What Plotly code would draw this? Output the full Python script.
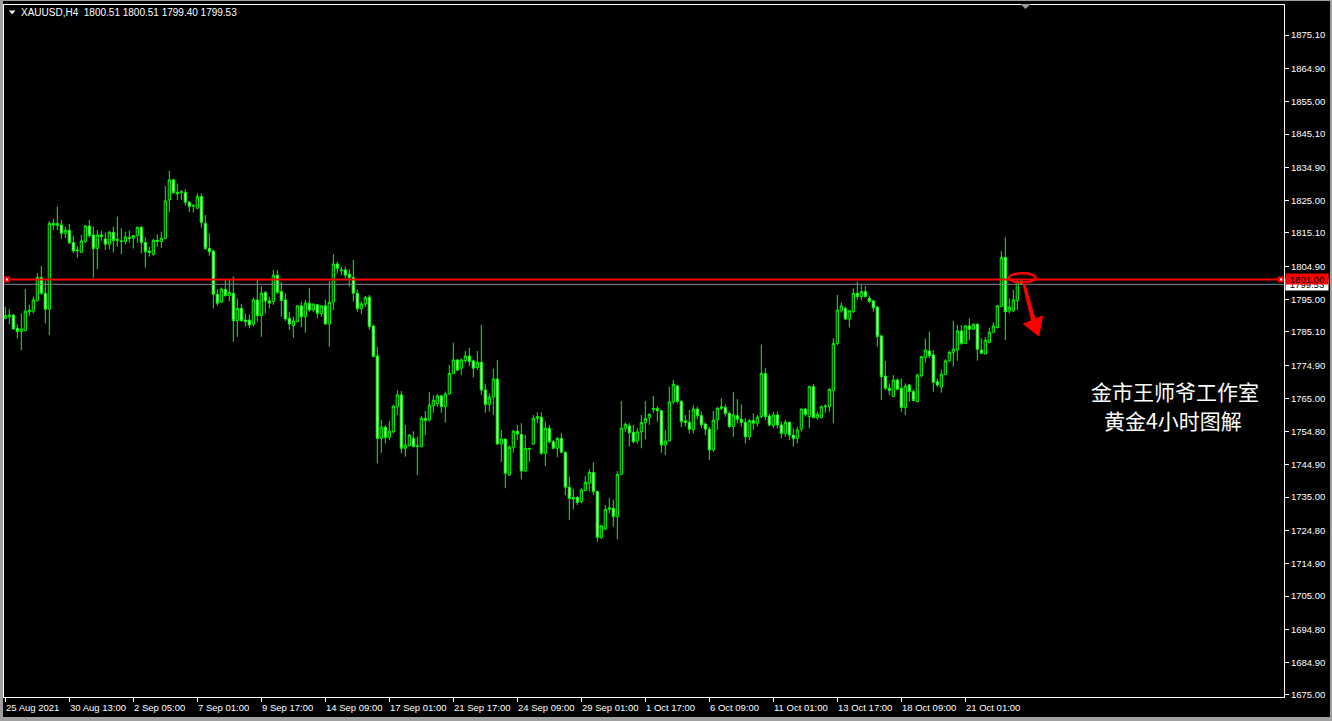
import plotly.graph_objects as go

# ---------------- data (XAUUSD H4) ----------------
opens = [
    1789.2, 1789.7, 1790.2, 1786.2, 1785.2, 1785.5, 1791.2, 1791.4, 1794.6, 1801.6,
    1796.8, 1792.0, 1818.0, 1817.3, 1817.5, 1815.0, 1815.9, 1812.2, 1809.7, 1809.2,
    1812.5, 1817.2, 1814.5, 1810.4, 1814.5, 1813.3, 1811.7, 1815.3, 1812.8, 1812.7,
    1812.5, 1813.7, 1813.5, 1814.3, 1816.8, 1812.2, 1809.6, 1808.6, 1812.9, 1812.5,
    1813.5, 1825.1, 1831.2, 1827.4, 1827.3, 1827.4, 1824.4, 1823.2, 1822.6, 1826.1,
    1818.0, 1810.4, 1809.6, 1796.5, 1794.1, 1798.0, 1796.1, 1796.8, 1788.5, 1792.2,
    1788.7, 1788.7, 1787.4, 1794.8, 1790.0, 1797.0, 1794.5, 1794.3, 1802.3, 1797.3,
    1794.8, 1789.2, 1787.0, 1788.2, 1793.0, 1789.7, 1793.8, 1791.7, 1793.3, 1790.7,
    1793.0, 1787.5, 1794.1, 1805.7, 1803.9,
    1803.9, 1802.6, 1801.6, 1796.8, 1792.2, 1793.5, 1795.6, 1786.9, 1777.8, 1752.8,
    1756.2, 1753.1, 1754.8, 1762.4, 1766.0, 1749.8, 1750.6, 1752.8, 1750.3, 1750.3,
    1758.9, 1758.4, 1762.7, 1763.4, 1765.7, 1762.4, 1766.3, 1772.5, 1776.6, 1774.1,
    1776.4, 1777.8, 1776.3, 1774.3, 1775.9, 1767.5, 1763.1, 1765.3, 1770.8, 1751.1,
    1752.6, 1741.7, 1750.1, 1755.0, 1754.0, 1742.9, 1749.8, 1751.1, 1758.9, 1759.2,
    1748.3, 1755.9, 1751.8, 1749.8, 1752.8, 1748.6, 1738.0, 1734.9, 1734.9, 1733.6,
    1737.0, 1739.2, 1742.5, 1736.7, 1722.8, 1725.3, 1731.3, 1731.6, 1729.1, 1741.9,
    1755.7, 1756.6, 1754.6, 1752.0, 1754.8, 1757.6, 1759.1, 1761.5, 1761.9, 1761.2,
    1750.8, 1752.1, 1763.9,
    1768.7, 1764.0, 1758.1, 1757.7, 1755.4, 1761.7, 1759.7, 1757.2, 1755.6, 1749.3,
    1758.4, 1761.9, 1762.2, 1760.4, 1756.4, 1759.7, 1758.6, 1757.7, 1753.3, 1758.2,
    1757.4, 1759.4, 1772.5, 1759.6, 1756.7, 1759.9, 1756.9, 1754.3, 1757.7, 1753.8,
    1752.8, 1755.7, 1761.7, 1759.4, 1768.5, 1759.1, 1759.1, 1762.4, 1762.4, 1767.3,
    1781.6, 1791.5, 1792.2, 1789.0, 1791.2, 1796.8, 1795.8, 1797.3, 1795.3, 1794.5,
    1792.6, 1783.9, 1771.7, 1768.0, 1765.5, 1770.5, 1768.0, 1762.2, 1769.0, 1767.0,
    1764.0, 1771.8, 1777.3, 1779.3, 1778.1, 1770.0, 1768.3, 1772.2, 1776.3, 1778.9,
    1779.6, 1785.4, 1781.6, 1786.9, 1785.9, 1787.4, 1779.6, 1778.4, 1781.9, 1785.0,
    1786.4, 1792.8, 1807.7, 1791.4, 1791.5, 1794.6, 1800.51,
]
highs = [
    1792.7, 1792.0, 1790.5, 1787.4, 1790.7, 1798.1, 1793.3, 1795.8, 1802.9, 1805.1,
    1800.5, 1818.7, 1819.3, 1823.1, 1819.0, 1817.0, 1817.8, 1814.3, 1811.2, 1814.5,
    1817.5, 1819.0, 1817.0, 1816.0, 1815.7, 1815.2, 1815.7, 1817.0, 1820.0, 1816.5,
    1815.5, 1815.9, 1814.5, 1817.0, 1817.2, 1813.7, 1810.9, 1813.3, 1814.7, 1815.5,
    1829.3, 1834.0, 1831.5, 1830.1, 1828.1, 1828.4, 1824.8, 1823.8, 1827.1, 1827.1,
    1820.5, 1815.0, 1809.9, 1798.0, 1798.6, 1801.0, 1801.3, 1802.0, 1795.3, 1793.5,
    1790.7, 1790.4, 1795.6, 1800.8, 1799.0, 1797.5, 1795.8, 1803.9, 1803.9, 1800.3,
    1796.8, 1791.2, 1789.7, 1793.3, 1794.3, 1794.8, 1798.5, 1793.8, 1793.5, 1793.3,
    1794.8, 1800.5, 1808.7, 1806.4, 1804.9,
    1804.9, 1804.1, 1806.9, 1798.0, 1794.5, 1796.0, 1796.3, 1787.2, 1780.6, 1758.4,
    1756.9, 1758.1, 1762.9, 1767.5, 1767.2, 1756.9, 1754.1, 1755.0, 1753.3, 1759.6,
    1761.1, 1766.8, 1765.8, 1766.2, 1766.0, 1767.0, 1775.1, 1781.8, 1776.8, 1777.1,
    1779.3, 1780.3, 1776.8, 1779.3, 1787.2, 1769.3, 1766.5, 1773.9, 1776.6, 1755.4,
    1752.6, 1750.8, 1755.4, 1756.9, 1757.4, 1753.8, 1749.8, 1759.9, 1760.7, 1760.7,
    1757.9, 1756.9, 1752.3, 1753.3, 1754.5, 1748.8, 1741.2, 1737.4, 1735.3, 1737.7,
    1741.4, 1743.4, 1745.6, 1737.0, 1726.5, 1732.6, 1734.8, 1734.1, 1742.9, 1764.1,
    1757.6, 1757.4, 1756.9, 1755.9, 1759.9, 1764.1, 1760.4, 1765.7, 1762.6, 1761.4,
    1755.4, 1768.5, 1770.5,
    1769.0, 1764.5, 1759.9, 1761.4, 1762.9, 1762.4, 1760.9, 1757.6, 1756.4, 1761.1,
    1762.4, 1765.0, 1763.2, 1760.9, 1766.8, 1764.7, 1763.1, 1758.9, 1758.7, 1760.4,
    1759.9, 1781.3, 1774.1, 1760.4, 1760.9, 1760.9, 1757.9, 1758.4, 1757.9, 1755.9,
    1756.4, 1761.9, 1762.1, 1768.8, 1769.3, 1760.9, 1762.9, 1763.2, 1768.0, 1783.2,
    1796.3, 1794.0, 1792.8, 1791.7, 1798.3, 1800.3, 1799.3, 1799.0, 1796.1, 1794.8,
    1793.0, 1783.9, 1776.3, 1769.5, 1772.0, 1771.0, 1771.0, 1769.5, 1769.3, 1767.7,
    1772.5, 1777.8, 1783.0, 1785.2, 1779.6, 1771.0, 1773.6, 1776.8, 1779.4, 1788.5,
    1787.2, 1787.2, 1787.2, 1789.2, 1787.7, 1787.7, 1783.2, 1783.5, 1786.4, 1788.0,
    1793.3, 1809.6, 1813.8, 1795.3, 1797.8, 1801.0, 1800.51,
]
lows = [
    1789.0, 1787.4, 1785.7, 1783.1, 1779.6, 1785.5, 1790.0, 1790.7, 1794.3, 1796.3,
    1787.7, 1784.2, 1816.0, 1816.0, 1813.3, 1813.5, 1811.7, 1808.9, 1807.6, 1809.1,
    1812.1, 1813.7, 1801.5, 1804.1, 1812.7, 1809.9, 1810.2, 1809.2, 1810.9, 1808.6,
    1811.7, 1812.1, 1810.4, 1812.1, 1808.9, 1804.6, 1807.9, 1808.2, 1810.9, 1810.6,
    1813.3, 1821.5, 1827.1, 1825.1, 1825.1, 1823.4, 1821.5, 1821.3, 1822.4, 1816.7,
    1809.9, 1808.2, 1792.2, 1793.0, 1793.8, 1795.8, 1794.3, 1782.1, 1783.6, 1788.2,
    1786.7, 1786.2, 1786.7, 1788.2, 1783.6, 1790.7, 1792.2, 1793.3, 1796.5, 1789.7,
    1788.4, 1785.7, 1783.3, 1788.0, 1786.5, 1784.9, 1791.2, 1791.2, 1789.2, 1789.7,
    1787.2, 1780.6, 1791.7, 1802.9, 1802.3,
    1801.3, 1798.8, 1794.3, 1791.2, 1790.5, 1792.7, 1785.7, 1777.4, 1745.2, 1748.5,
    1751.3, 1752.3, 1754.3, 1759.9, 1748.3, 1747.3, 1750.3, 1750.1, 1741.7, 1750.1,
    1753.8, 1757.9, 1760.6, 1762.4, 1760.6, 1757.6, 1766.0, 1772.2, 1773.3, 1772.0,
    1775.6, 1774.8, 1771.3, 1773.5, 1766.0, 1760.6, 1760.9, 1759.9, 1750.8, 1745.7,
    1737.7, 1741.4, 1748.5, 1752.3, 1740.4, 1742.7, 1745.7, 1750.8, 1757.4, 1747.8,
    1744.4, 1751.3, 1749.5, 1747.1, 1748.3, 1735.6, 1728.1, 1731.3, 1732.6, 1733.1,
    1737.0, 1736.7, 1735.6, 1721.5, 1722.3, 1725.0, 1730.1, 1726.0, 1722.2, 1741.7,
    1754.8, 1750.3, 1751.3, 1751.1, 1749.8, 1752.5, 1756.9, 1760.4, 1757.9, 1748.5,
    1747.8, 1751.8, 1763.2,
    1763.4, 1756.2, 1756.4, 1754.3, 1754.3, 1758.6, 1755.9, 1753.8, 1746.3, 1748.8,
    1755.4, 1761.4, 1759.4, 1755.9, 1753.3, 1757.4, 1756.4, 1751.3, 1752.3, 1755.4,
    1756.4, 1758.9, 1758.4, 1756.4, 1755.9, 1755.9, 1752.8, 1753.3, 1752.3, 1750.3,
    1751.3, 1754.9, 1759.4, 1755.9, 1758.9, 1758.4, 1758.9, 1760.6, 1760.9, 1757.4,
    1781.1, 1790.9, 1788.7, 1786.4, 1790.9, 1794.8, 1794.6, 1795.5, 1793.8, 1791.2,
    1780.6, 1764.5, 1767.5, 1766.0, 1765.3, 1767.5, 1760.9, 1759.9, 1764.0, 1764.0,
    1763.7, 1771.3, 1775.8, 1777.1, 1767.0, 1768.5, 1766.7, 1772.0, 1776.1, 1774.6,
    1776.4, 1781.1, 1781.4, 1782.6, 1785.7, 1776.4, 1778.4, 1778.3, 1781.6, 1784.7,
    1786.2, 1792.6, 1782.6, 1790.7, 1791.2, 1791.7, 1799.40,
]
closes = [
    1790.0, 1790.2, 1786.0, 1785.2, 1786.0, 1791.4, 1791.7, 1794.8, 1801.6, 1796.8,
    1792.0, 1818.0, 1817.5, 1818.0, 1815.0, 1815.9, 1812.1, 1809.7, 1809.9, 1812.7,
    1817.2, 1814.3, 1810.4, 1814.5, 1814.0, 1811.7, 1815.3, 1812.8, 1813.2, 1812.5,
    1813.9, 1813.5, 1814.3, 1816.8, 1812.2, 1809.4, 1809.2, 1812.9, 1812.5, 1813.5,
    1824.8, 1831.2, 1827.3, 1827.0, 1827.6, 1824.4, 1823.1, 1823.4, 1826.1, 1818.3,
    1810.4, 1809.4, 1796.5, 1793.8, 1798.1, 1796.1, 1797.0, 1788.5, 1792.2, 1788.5,
    1788.2, 1787.2, 1794.8, 1790.0, 1796.8, 1794.5, 1793.8, 1802.3, 1797.1, 1794.6,
    1789.0, 1787.5, 1788.4, 1793.0, 1789.7, 1793.8, 1791.7, 1793.5, 1790.7, 1793.0,
    1787.5, 1794.1, 1805.7, 1804.4, 1803.7,
    1802.3, 1801.5, 1796.8, 1792.2, 1793.6, 1795.6, 1786.7, 1777.6, 1752.8, 1756.2,
    1753.1, 1755.0, 1762.6, 1766.0, 1749.8, 1750.8, 1753.8, 1750.3, 1750.5, 1758.9,
    1758.2, 1762.9, 1764.4, 1765.7, 1762.4, 1766.3, 1772.5, 1776.6, 1773.5, 1776.6,
    1777.8, 1776.1, 1774.1, 1775.9, 1767.5, 1763.1, 1765.3, 1770.8, 1751.1, 1752.6,
    1742.2, 1750.1, 1755.0, 1754.1, 1742.9, 1749.8, 1749.6, 1758.9, 1759.4, 1748.3,
    1755.9, 1751.8, 1749.8, 1752.8, 1748.6, 1738.0, 1734.6, 1734.4, 1733.4, 1737.2,
    1739.5, 1742.5, 1736.7, 1722.8, 1726.3, 1731.3, 1731.8, 1729.1, 1741.9, 1755.9,
    1757.1, 1754.5, 1751.8, 1754.8, 1757.6, 1758.9, 1760.1, 1761.9, 1761.2, 1750.8,
    1752.0, 1763.9, 1769.2,
    1764.0, 1757.9, 1757.6, 1755.6, 1761.7, 1759.7, 1756.9, 1755.6, 1749.3, 1758.4,
    1761.9, 1762.4, 1760.4, 1756.4, 1759.9, 1758.6, 1757.6, 1753.3, 1758.2, 1757.4,
    1759.2, 1772.5, 1759.4, 1756.9, 1759.9, 1756.9, 1754.3, 1757.7, 1753.8, 1752.8,
    1755.4, 1761.7, 1760.1, 1768.5, 1759.1, 1760.1, 1762.4, 1762.6, 1767.7, 1781.6,
    1791.7, 1793.0, 1789.0, 1791.5, 1796.8, 1795.8, 1797.3, 1795.8, 1794.3, 1792.4,
    1783.7, 1771.5, 1768.0, 1767.3, 1770.5, 1767.7, 1762.2, 1768.7, 1767.0, 1764.3,
    1772.0, 1777.6, 1779.6, 1777.9, 1769.8, 1769.0, 1772.3, 1776.3, 1778.9, 1779.9,
    1785.4, 1781.6, 1786.9, 1785.9, 1787.4, 1779.8, 1778.6, 1782.6, 1785.0, 1786.9,
    1793.0, 1807.7, 1791.2, 1792.6, 1794.8, 1800.3, 1799.53,
]

time_labels = ["25 Aug 2021", "30 Aug 13:00", "2 Sep 05:00", "7 Sep 01:00", "9 Sep 17:00",
               "14 Sep 09:00", "17 Sep 01:00", "21 Sep 17:00", "24 Sep 09:00", "29 Sep 01:00",
               "1 Oct 17:00", "6 Oct 09:00", "11 Oct 01:00", "13 Oct 17:00", "18 Oct 09:00",
               "21 Oct 01:00"]
label_step = 16  # one time label every 16 bars

price_ticks = [1875.10, 1864.90, 1855.00, 1845.10, 1834.90, 1825.00, 1815.10, 1804.90,
               1795.00, 1785.10, 1774.90, 1765.00, 1754.80, 1744.90, 1735.00, 1724.80,
               1714.90, 1705.00, 1694.80, 1684.90, 1675.00]

level_line = 1801.00
bid_price = closes[-1]
title_text = "XAUUSD,H4\u00a0\u00a0%.2f %.2f %.2f %.2f" % (opens[-1], highs[-1], lows[-1], closes[-1])
note_lines = ["金市王师爷工作室", "黄金4小时图解"]

# ---------------- layout geometry ----------------
W, H = 1332, 721
L, R, T, B = 4, 48, 5, 24
PW, PH = W - L - R, H - T - B
Y_RANGE = [1674.39, 1884.22]
X_RANGE = [-0.33, 319.67]


def px(xp):
    return (xp - L) / PW


def py(yp):
    return 1 - (yp - T) / PH


def ypaper(price):
    return (price - Y_RANGE[0]) / (Y_RANGE[1] - Y_RANGE[0])


idx = list(range(len(closes)))
tick_idx = [i * label_step for i in range(len(time_labels))]

GREEN = "#00ff00"
FAM = "Liberation Sans, Arial, sans-serif"
AXFONT = dict(family=FAM, size=9.5, color="#ffffff")

fig = go.Figure()
fig.add_trace(go.Candlestick(
    x=idx, open=opens, high=highs, low=lows, close=closes,
    increasing=dict(line=dict(color=GREEN, width=1), fillcolor="#000000"),
    decreasing=dict(line=dict(color=GREEN, width=1), fillcolor="#ffffff"),
    whiskerwidth=0, showlegend=False, hoverinfo="skip",
))

shapes = []
shapes.append(dict(type="line", xref="paper", x0=0, x1=1, yref="y", y0=level_line, y1=level_line,
                   line=dict(color="#ff0000", width=2), layer="above"))
shapes.append(dict(type="line", xref="paper", x0=0, x1=1, yref="y", y0=bid_price, y1=bid_price,
                   line=dict(color="#778899", width=1), layer="above"))
for cx in (7, 1281):
    shapes.append(dict(type="rect", xref="paper", yref="paper",
                       x0=px(cx - 3), x1=px(cx + 3),
                       y0=ypaper(level_line) - 3 / PH, y1=ypaper(level_line) + 3 / PH,
                       fillcolor="#ff0000", line=dict(width=0), layer="above"))
    shapes.append(dict(type="rect", xref="paper", yref="paper",
                       x0=px(cx - 1), x1=px(cx + 1),
                       y0=ypaper(level_line) - 1 / PH, y1=ypaper(level_line) + 1 / PH,
                       fillcolor="#ffffff", line=dict(width=0), layer="above"))
shapes.append(dict(type="circle", xref="paper", yref="paper",
                   x0=px(1008.7), x1=px(1035.7), y0=py(282.5), y1=py(273.2),
                   line=dict(color="#ff0000", width=2.5), layer="above"))


def path(points):
    return "M " + " L ".join("%.5f,%.5f" % (px(a), py(b)) for a, b in points) + " Z"


shapes.append(dict(type="path", xref="paper", yref="paper",
                   path=path([(1022.5, 284), (1025.5, 284), (1035.5, 319), (1031, 320.5)]),
                   fillcolor="#ff0000", line=dict(width=0), layer="above"))
shapes.append(dict(type="path", xref="paper", yref="paper",
                   path=path([(1023.5, 324), (1042.5, 316), (1038.8, 336)]),
                   fillcolor="#ff0000", line=dict(color="#ff0000", width=1), layer="above"))
shapes.append(dict(type="path", xref="paper", yref="paper",
                   path=path([(9, 10.5), (15.5, 10.5), (12.25, 14.5)]),
                   fillcolor="#ffffff", line=dict(width=0), layer="above"))
shapes.append(dict(type="path", xref="paper", yref="paper",
                   path=path([(1020.5, 4), (1030.5, 4), (1025.5, 9)]),
                   fillcolor="#9a9a9a", line=dict(width=0), layer="above"))
for (a, b, c, d) in [(0, 0, 3, H), (0, H - 4, W, H), (0, 0, W, 1), (W - 2, 0, W, H)]:
    shapes.append(dict(type="rect", xref="paper", yref="paper",
                       x0=px(a), x1=px(c), y0=py(d), y1=py(b),
                       fillcolor="#a0a0a0", line=dict(width=0), layer="above"))

annotations = []
annotations.append(dict(xref="paper", yref="paper", x=px(19), y=py(13), xanchor="left", yanchor="middle",
                        text=title_text, showarrow=False, font=dict(family=FAM, size=10, color="#ffffff")))
# time labels, left-aligned at their ticks
for i, lab in zip(tick_idx, time_labels):
    annotations.append(dict(xref="x", yref="paper", x=i, y=py(700), xanchor="left", yanchor="top",
                            xshift=-1, text=lab, showarrow=False, font=AXFONT))
annotations.append(dict(xref="paper", yref="y", x=px(1285), y=bid_price, xanchor="left", yanchor="middle",
                        text="%.2f" % bid_price, showarrow=False, bgcolor="#ffffff", width=42, height=11,
                        borderpad=0, font=dict(family=FAM, size=9.5, color="#000000")))
annotations.append(dict(xref="paper", yref="y", x=px(1285), y=level_line, xanchor="left", yanchor="middle",
                        text="%.2f" % level_line, showarrow=False, bgcolor="#ff0000", width=42, height=10,
                        borderpad=0, font=dict(family=FAM, size=9.5, color="#000000")))
for txt, cx, cy in zip(note_lines, (1175, 1172.5), (391.5, 420)):
    annotations.append(dict(xref="paper", yref="paper", x=px(cx), y=py(cy), xanchor="center",
                            yanchor="middle", text=txt, showarrow=False,
                            font=dict(family="Noto Sans CJK SC", size=21, color="#ffffff")))

fig.update_layout(
    width=W, height=H, margin=dict(l=L, r=R, t=T, b=B, autoexpand=False),
    paper_bgcolor="#000000", plot_bgcolor="#000000",
    showlegend=False, boxgap=0.45, boxgroupgap=0,
    shapes=shapes, annotations=annotations,
    xaxis=dict(range=X_RANGE, rangeslider=dict(visible=False), showgrid=False, zeroline=False,
               showline=True, mirror=True, linecolor="#ffffff", linewidth=1,
               ticks="outside", ticklen=4, tickcolor="#ffffff", tickwidth=1,
               tickvals=tick_idx, showticklabels=False, automargin=False, fixedrange=True),
    yaxis=dict(range=Y_RANGE, side="right", showgrid=False, zeroline=False,
               showline=True, mirror=True, linecolor="#ffffff", linewidth=1,
               ticks="outside", ticklen=4, tickcolor="#ffffff", tickwidth=1,
               tickvals=price_ticks, ticktext=["%.2f" % v for v in price_ticks],
               tickfont=AXFONT, automargin=False, fixedrange=True),
)

fig.write_html(
    "out.html",
    config={"displayModeBar": False},
    post_script="document.body.style.margin='0px';document.body.style.padding='0px';"
                "document.body.style.background='#000000';document.body.style.overflow='hidden';",
)
